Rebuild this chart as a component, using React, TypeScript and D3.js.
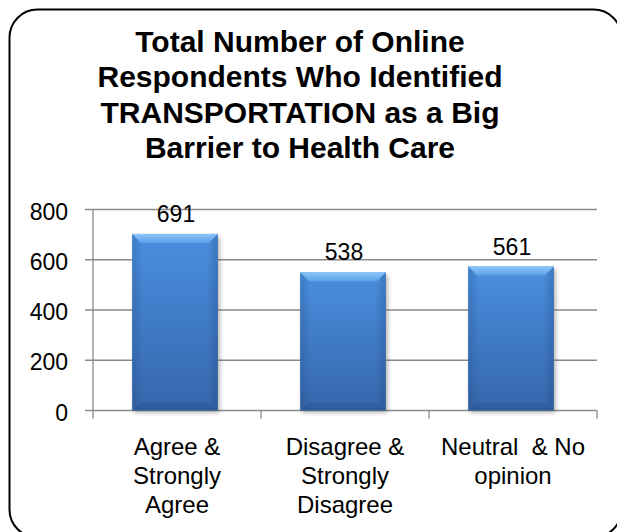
import React from "react";
import * as d3 from "d3";

const categories: string[][] = [
  ["Agree &", "Strongly", "Agree"],
  ["Disagree &", "Strongly", "Disagree"],
  ["Neutral  & No", "opinion"],
];
const values: number[] = [691, 538, 561];
const yTicks: number[] = [0, 200, 400, 600, 800];
const titleLines: string[] = [
  "Total Number of Online",
  "Respondents Who Identified",
  "TRANSPORTATION as a Big",
  "Barrier to Health Care",
];

const W = 617;
const H = 532;
const FONT = "'Liberation Sans', Arial, sans-serif";

export default function App() {
  const keys = categories.map((c) => c.join(" "));
  const x = d3
    .scaleBand<string>()
    .domain(keys)
    .range([93, 597])
    .paddingInner(0.49)
    .paddingOuter(0.245);
  const y = d3.scaleLinear().domain([0, 800]).range([410.5, 209.5]);
  const step = x.step();
  const catEdges = d3.range(keys.length + 1).map((i) => 93 + i * step);
  const b = 9;

  return (
    <svg
      width={W}
      height={H}
      style={{ position: "absolute", left: 0, top: 0, background: "#fff" }}
      fontFamily={FONT}
    >
      <defs>
        <linearGradient id="body" x1="0" y1="0" x2="0" y2="1">
          <stop offset="0" stopColor="#4a8fe0" />
          <stop offset="1" stopColor="#3566ab" />
        </linearGradient>
        <linearGradient id="sides" x1="0" y1="0" x2="1" y2="0">
          <stop offset="0" stopColor="#1d3f70" stopOpacity="0.25" />
          <stop offset="0.12" stopColor="#1d3f70" stopOpacity="0" />
          <stop offset="0.88" stopColor="#1d3f70" stopOpacity="0" />
          <stop offset="1" stopColor="#1d3f70" stopOpacity="0.3" />
        </linearGradient>
        <linearGradient id="bevelTop" x1="0" y1="0" x2="0" y2="1">
          <stop offset="0" stopColor="#8cc6f8" />
          <stop offset="1" stopColor="#5c9fe8" />
        </linearGradient>
        <filter id="shadow" x="-20%" y="-20%" width="140%" height="140%">
          <feGaussianBlur stdDeviation="2" />
        </filter>
      </defs>

      <rect
        x={9.5}
        y={9.5}
        width={612}
        height={528}
        rx={28}
        ry={28}
        fill="none"
        stroke="#000"
        strokeWidth={2}
      />

      {titleLines.map((t, i) => (
        <text
          key={i}
          x={300}
          y={52 + i * 35.3}
          textAnchor="middle"
          fontWeight="bold"
          fontSize={30}
          fill="#000"
        >
          {t}
        </text>
      ))}

      {/* gridlines + y ticks */}
      {yTicks.map((t) => (
        <g key={t}>
          <line x1={85} x2={597} y1={y(t)} y2={y(t)} stroke="#8a8a8a" strokeWidth={1.3} />
          <text x={68} y={y(t) + 10} textAnchor="end" fontSize={23} fill="#000">
            {t}
          </text>
        </g>
      ))}
      <line x1={93} x2={93} y1={y(800)} y2={y(0)} stroke="#8a8a8a" strokeWidth={1.3} />
      {catEdges.map((cx, i) => (
        <line key={i} x1={cx} x2={cx} y1={y(0)} y2={y(0) + 8} stroke="#8a8a8a" strokeWidth={1.3} />
      ))}

      {/* bars */}
      {values.map((v, i) => {
        const x0 = (x(keys[i]) as number) - 2;
        const w = x.bandwidth();
        const x1 = x0 + w;
        const top = y(v) - 3;
        const bot = y(0);
        return (
          <g key={i}>
            <rect x={x0 + 2} y={top + 3} width={w} height={bot - top - 1} fill="#555" opacity={0.45} filter="url(#shadow)" />
            <rect x={x0} y={top} width={w} height={bot - top} fill="url(#body)" />
            <rect x={x0} y={top} width={w} height={bot - top} fill="url(#sides)" />
            <polygon
              points={`${x0},${top} ${x1},${top} ${x1 - b},${top + b} ${x0 + b},${top + b}`}
              fill="url(#bevelTop)"
            />
            <polygon
              points={`${x0},${bot} ${x1},${bot} ${x1 - b},${bot - b * 0.8} ${x0 + b},${bot - b * 0.8}`}
              fill="#2a5592"
              opacity={0.45}
            />
            <text x={x0 + w / 2 + 1} y={y(v) - 15} textAnchor="middle" fontSize={23} fill="#000">
              {v}
            </text>
          </g>
        );
      })}

      {/* category labels */}
      {categories.map((lines, i) => {
        const cx = (x(keys[i]) as number) + x.bandwidth() / 2;
        return lines.map((ln, j) => (
          <text
            key={`${i}-${j}`}
            x={cx}
            y={455 + j * 29}
            textAnchor="middle"
            fontSize={24}
            fill="#000"
            style={{ whiteSpace: "pre" }}
          >
            {ln}
          </text>
        ));
      })}
    </svg>
  );
}
